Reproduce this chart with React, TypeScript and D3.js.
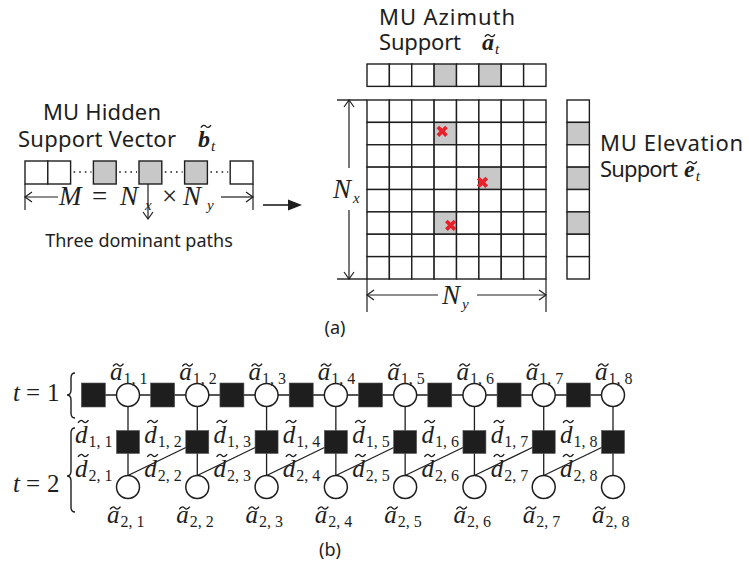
import React from 'react';
import * as d3 from 'd3';

const W = 749;
const H = 567;

// ---- (a) support structure ----
const gridSize = 8;
const azimuthSupport = [0, 0, 0, 1, 0, 1, 0, 0];
const elevationSupport = [0, 1, 0, 1, 0, 1, 0, 0];
// dominant paths: cell in the Nx x Ny grid + where the cross sits inside the cell
const dominantPaths = [
  { row: 1, col: 3, fx: 0.36, fy: 0.4 },
  { row: 3, col: 5, fx: 0.16, fy: 0.68 },
  { row: 5, col: 3, fx: 0.74, fy: 0.6 },
];
// hidden support vector, slot by slot
const hiddenSlots = ['empty', 'empty', 'dots', 'active', 'dots', 'active', 'dots', 'active', 'dots', 'empty'];

// ---- (b) factor graph ----
const nodeIndex = [1, 2, 3, 4, 5, 6, 7, 8];
const timeLabels = ['1', '2'];

const INK = '#1e1e1e';
const GRAY = '#c8c8c8';
const RED = '#e8202a';
const SANS = "'Noto Sans', 'Open Sans', sans-serif";
const SERIF = "'Liberation Serif', 'DejaVu Serif', serif";

// little tilde accent
const tildePath = (cx: number, cy: number, w: number) => {
  const p = d3.path();
  p.moveTo(cx - w / 2, cy + 1.3);
  p.quadraticCurveTo(cx - w / 4, cy - 2.6, cx, cy);
  p.quadraticCurveTo(cx + w / 4, cy + 2.6, cx + w / 2, cy - 1.3);
  return p.toString();
};

interface MathProps {
  x: number;
  y: number;
  base: string;
  sub: string;
  size?: number;
  bold?: boolean;
  tall?: boolean;
  subItalic?: boolean;
}

// accented symbol with subscript, e.g. a~_{1,2}
const TildeSym: React.FC<MathProps> = ({ x, y, base, sub, size = 24, bold = false, tall = false, subItalic = false }) => {
  const baseW = size * 0.5;
  const ty = y - size * (tall ? 0.86 : 0.6);
  return (
    <g>
      <text x={x} y={y} fontFamily={SERIF} fontStyle="italic" fontWeight={bold ? 'bold' : 'normal'} fontSize={size} fill={INK}>
        {base}
        <tspan fontSize={size * 0.64} dy={size * 0.16} dx={1} fontStyle={subItalic ? 'italic' : 'normal'} fontWeight="normal">
          {sub}
        </tspan>
      </text>
      <path d={tildePath(x + baseW / 2 + size * 0.08, ty, size * 0.42)} fill="none" stroke={INK} strokeWidth={1.3} />
    </g>
  );
};

const chevron = (tx: number, ty: number, dir: 'l' | 'r' | 'u' | 'd', len = 7, half = 5) => {
  const [dx, dy] = dir === 'l' ? [1, 0] : dir === 'r' ? [-1, 0] : dir === 'u' ? [0, 1] : [0, -1];
  const px = -dy;
  const py = dx;
  return `M${tx + dx * len + px * half},${ty + dy * len + py * half}L${tx},${ty}L${tx + dx * len - px * half},${ty + dy * len - py * half}`;
};

const bracePath = (x: number, y0: number, y1: number, tip: number, w = 8) => {
  const xr = x + w;
  const xm = x + w / 2;
  const c = 5;
  const p = d3.path();
  p.moveTo(xr, y0);
  p.quadraticCurveTo(xm, y0, xm, y0 + c);
  p.lineTo(xm, tip - c);
  p.quadraticCurveTo(xm, tip, x, tip);
  p.quadraticCurveTo(xm, tip, xm, tip + c);
  p.lineTo(xm, y1 - c);
  p.quadraticCurveTo(xm, y1, xr, y1);
  return p.toString();
};

const App: React.FC = () => {
  // grid scales
  const colX = d3.scaleBand<number>().domain(d3.range(gridSize)).range([367, 546]);
  const rowY = d3.scaleBand<number>().domain(d3.range(gridSize)).range([100, 279]);
  const cell = colX.bandwidth();
  const aziTop = 64;
  const elevX = 567;

  // hidden vector slots
  const slotX = d3.scaleBand<number>().domain(d3.range(hiddenSlots.length)).range([25, 253]);
  const hvTop = 161;
  const hvH = 23;
  const activeIdx = hiddenSlots.map((s, i) => (s === 'active' ? i : -1)).filter(i => i >= 0);
  const downX = (slotX(activeIdx[1]) as number) + 9;

  // factor graph scales
  const nx = d3.scaleLinear().domain([1, 8]).range([128, 613]);
  const step = nx(2) - nx(1);
  const yTop = 395;
  const yMid = 442;
  const yBot = 487;
  const r = 11.5;

  return (
    <svg width={W} height={H} style={{ position: 'absolute', left: 0, top: 0, background: '#fff' }} fontFamily={SANS}>
      <rect width={W} height={H} fill="#fff" />

      {/* ===== (a) left: hidden support vector ===== */}
      <text x={43} y={120} fontSize={22} fill={INK} textLength={118}>MU Hidden</text>
      <text x={18} y={147} fontSize={22} fill={INK} textLength={158}>Support Vector</text>
      <TildeSym x={198} y={147} base="b" sub="t" size={24} bold tall subItalic />

      {hiddenSlots.map((s, i) =>
        s === 'dots' ? (
          <line key={i} x1={(slotX(i) as number) + 3} x2={(slotX(i) as number) + slotX.bandwidth() - 2} y1={hvTop + 11} y2={hvTop + 11}
            stroke={INK} strokeWidth={1.6} strokeDasharray="1.6,4" />
        ) : (
          <rect key={i} x={slotX(i)} y={hvTop} width={slotX.bandwidth()} height={hvH}
            fill={s === 'active' ? GRAY : '#fff'} stroke={INK} strokeWidth={1.4} />
        )
      )}

      {/* M = Nx x Ny measure */}
      <line x1={25} x2={25} y1={hvTop + hvH} y2={210} stroke={INK} strokeWidth={1.2} />
      <line x1={253} x2={253} y1={hvTop + hvH} y2={210} stroke={INK} strokeWidth={1.2} />
      <line x1={25} x2={58} y1={197} y2={197} stroke={INK} strokeWidth={1.2} />
      <path d={chevron(25, 197, 'l')} fill="none" stroke={INK} strokeWidth={1.2} />
      <line x1={221} x2={253} y1={197} y2={197} stroke={INK} strokeWidth={1.2} />
      <path d={chevron(253, 197, 'r')} fill="none" stroke={INK} strokeWidth={1.2} />
      <g fontFamily={SERIF} fontSize={27} fill={INK}>
        <text x={59} y={205} fontStyle="italic">M</text>
        <text x={92} y={205}>=</text>
        <text x={120} y={205} fontStyle="italic">N</text>
        <text x={145} y={210} fontStyle="italic" fontSize={15}>x</text>
        <text x={162} y={205}>×</text>
        <text x={183} y={205} fontStyle="italic">N</text>
        <text x={207} y={210} fontStyle="italic" fontSize={15}>y</text>
      </g>

      {/* down arrow from the active slot */}
      <line x1={downX} x2={downX} y1={hvTop + hvH} y2={219} stroke={INK} strokeWidth={1.2} />
      <path d={chevron(downX, 219, 'd', 7, 5)} fill="none" stroke={INK} strokeWidth={1.2} />
      <text x={139} y={247} fontSize={18} textAnchor="middle" fill={INK}>Three dominant paths</text>

      {/* big arrow */}
      <line x1={263} x2={290} y1={205} y2={205} stroke={INK} strokeWidth={1.6} />
      <path d="M302,205L288,199.5L288,210.5Z" fill={INK} />

      {/* ===== (a) right: azimuth / grid / elevation ===== */}
      <text x={379} y={25} fontSize={22} fill={INK} textLength={136}>MU Azimuth</text>
      <text x={379} y={50} fontSize={22} fill={INK} textLength={82}>Support</text>
      <TildeSym x={482} y={50} base="a" sub="t" size={24} bold subItalic />

      {azimuthSupport.map((v, i) => (
        <rect key={i} x={colX(i)} y={aziTop} width={cell} height={cell} fill={v ? GRAY : '#fff'} stroke={INK} strokeWidth={1.4} />
      ))}

      {d3.range(gridSize).map(ri =>
        d3.range(gridSize).map(ci => {
          const hit = dominantPaths.some(p => p.row === ri && p.col === ci);
          return (
            <rect key={`${ri}-${ci}`} x={colX(ci)} y={rowY(ri)} width={cell} height={cell}
              fill={hit ? GRAY : '#fff'} stroke={INK} strokeWidth={1.4} />
          );
        })
      )}
      {dominantPaths.map((p, i) => {
        const cx = (colX(p.col) as number) + p.fx * cell;
        const cy = (rowY(p.row) as number) + p.fy * cell;
        const s = 4.3;
        return (
          <path key={i} d={`M${cx - s},${cy - s}L${cx + s},${cy + s}M${cx - s},${cy + s}L${cx + s},${cy - s}`}
            stroke={RED} strokeWidth={3.8} fill="none" />
        );
      })}

      {/* Nx measure */}
      <line x1={337} x2={367} y1={100} y2={100} stroke={INK} strokeWidth={1.4} />
      <line x1={337} x2={367} y1={279} y2={279} stroke={INK} strokeWidth={1.4} />
      <line x1={349} x2={349} y1={100} y2={168} stroke={INK} strokeWidth={1.2} />
      <line x1={349} x2={349} y1={210} y2={279} stroke={INK} strokeWidth={1.2} />
      <path d={chevron(349, 100, 'u', 7, 5)} fill="none" stroke={INK} strokeWidth={1.2} />
      <path d={chevron(349, 279, 'd', 7, 5)} fill="none" stroke={INK} strokeWidth={1.2} />
      <g fontFamily={SERIF} fontSize={27} fill={INK} fontStyle="italic">
        <text x={333} y={198}>N</text>
        <text x={353} y={203} fontSize={15}>x</text>
      </g>

      {/* Ny measure */}
      <line x1={367} x2={367} y1={279} y2={312} stroke={INK} strokeWidth={1.2} />
      <line x1={546} x2={546} y1={279} y2={312} stroke={INK} strokeWidth={1.2} />
      <line x1={367} x2={438} y1={295} y2={295} stroke={INK} strokeWidth={1.2} />
      <line x1={477} x2={546} y1={295} y2={295} stroke={INK} strokeWidth={1.2} />
      <path d={chevron(367, 295, 'l')} fill="none" stroke={INK} strokeWidth={1.2} />
      <path d={chevron(546, 295, 'r')} fill="none" stroke={INK} strokeWidth={1.2} />
      <g fontFamily={SERIF} fontSize={27} fill={INK} fontStyle="italic">
        <text x={442} y={304}>N</text>
        <text x={462} y={309} fontSize={15}>y</text>
      </g>

      {elevationSupport.map((v, i) => (
        <rect key={i} x={elevX} y={rowY(i)} width={cell} height={cell} fill={v ? GRAY : '#fff'} stroke={INK} strokeWidth={1.4} />
      ))}
      <text x={600} y={151} fontSize={22} fill={INK} textLength={143}>MU Elevation</text>
      <text x={600} y={177} fontSize={22} fill={INK} textLength={78}>Support</text>
      <TildeSym x={684} y={177} base="e" sub="t" size={24} bold subItalic />

      <text x={335} y={334} fontSize={18} textAnchor="middle" fill={INK}>(a)</text>

      {/* ===== (b) factor graph ===== */}
      <line x1={nx(1) - step / 2} x2={nx(8)} y1={yTop} y2={yTop} stroke={INK} strokeWidth={1.3} />
      {nodeIndex.map(i => (
        <line key={`v${i}`} x1={nx(i)} x2={nx(i)} y1={yTop} y2={yBot} stroke={INK} strokeWidth={1.3} />
      ))}
      {nodeIndex.slice(0, -1).map(i => (
        <line key={`dg${i}`} x1={nx(i)} y1={yBot - r} x2={nx(i + 1)} y2={yMid} stroke={INK} strokeWidth={1.3} />
      ))}
      {nodeIndex.map(i => (
        <rect key={`sq${i}`} x={nx(i) - step / 2 - 12} y={yTop - 12} width={24} height={24} fill={INK} stroke="#555" strokeWidth={0.6} />
      ))}
      {nodeIndex.map(i => (
        <rect key={`sd${i}`} x={nx(i) - 11.5} y={yMid - 11.5} width={23} height={23} fill={INK} stroke="#555" strokeWidth={0.6} />
      ))}
      {nodeIndex.map(i => (
        <g key={`c${i}`}>
          <circle cx={nx(i)} cy={yTop} r={r} fill="#fff" stroke={INK} strokeWidth={1.5} />
          <circle cx={nx(i)} cy={yBot} r={r} fill="#fff" stroke={INK} strokeWidth={1.5} />
        </g>
      ))}

      {nodeIndex.map(i => (
        <g key={`lab${i}`}>
          <TildeSym x={nx(i) - 18} y={380} base="a" sub={`${timeLabels[0]}, ${i}`} size={25} />
          <TildeSym x={nx(i) - 53} y={443} base="d" sub={`${timeLabels[0]}, ${i}`} size={25} tall />
          <TildeSym x={nx(i) - 53} y={477} base="d" sub={`${timeLabels[1]}, ${i}`} size={25} tall />
          <TildeSym x={nx(i) - 21} y={523} base="a" sub={`${timeLabels[1]}, ${i}`} size={25} />
        </g>
      ))}

      {/* time step braces */}
      <g fontFamily={SERIF} fontSize={25} fill={INK}>
        <text x={13} y={401} fontStyle="italic">t</text>
        <text x={26} y={401}>=</text>
        <text x={47} y={401}>{timeLabels[0]}</text>
        <text x={13} y={492} fontStyle="italic">t</text>
        <text x={26} y={492}>=</text>
        <text x={47} y={492}>{timeLabels[1]}</text>
      </g>
      <path d={bracePath(67, 373, 418, 395)} fill="none" stroke={INK} strokeWidth={1.4} />
      <path d={bracePath(67, 428, 512, 476)} fill="none" stroke={INK} strokeWidth={1.4} />

      <text x={330} y={556} fontSize={18} textAnchor="middle" fill={INK}>(b)</text>
    </svg>
  );
};

export default App;
